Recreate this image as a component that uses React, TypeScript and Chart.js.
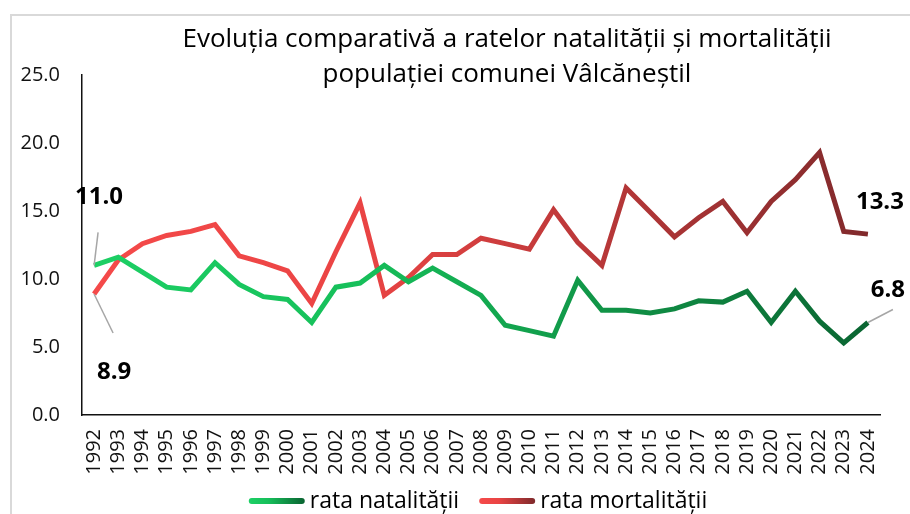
import { useEffect, useRef } from 'react';
import { Chart, registerables } from 'chart.js';

Chart.register(...registerables);

const years = [
  '1992', '1993', '1994', '1995', '1996', '1997', '1998', '1999', '2000', '2001', '2002',
  '2003', '2004', '2005', '2006', '2007', '2008', '2009', '2010', '2011', '2012', '2013',
  '2014', '2015', '2016', '2017', '2018', '2019', '2020', '2021', '2022', '2023', '2024',
];
const natalitate = [
  11.0, 11.6, 10.5, 9.4, 9.2, 11.2, 9.6, 8.7, 8.5, 6.8, 9.4,
  9.7, 11.0, 9.8, 10.8, 9.8, 8.8, 6.6, 6.2, 5.8, 9.9, 7.7,
  7.7, 7.5, 7.8, 8.4, 8.3, 9.1, 6.8, 9.1, 6.9, 5.3, 6.8,
];
const mortalitate = [
  8.9, 11.4, 12.6, 13.2, 13.5, 14.0, 11.7, 11.2, 10.6, 8.2, 12.0,
  15.6, 8.8, 10.1, 11.8, 11.8, 13.0, 12.6, 12.2, 15.1, 12.7, 11.0,
  16.7, 14.9, 13.1, 14.5, 15.7, 13.4, 15.7, 17.3, 19.3, 13.5, 13.3,
];
const seriesNames = ['rata natalității', 'rata mortalității'];
const titleLines = [
  'Evoluția comparativă a ratelor natalității și mortalității',
  'populației comunei Vâlcăneștil',
];
const yMin = 0;
const yMax = 25;
const yStep = 5;

const greenStops: [number, string][] = [
  [0, '#1dd065'],
  [0.35, '#16bf5a'],
  [1, '#0a6331'],
];
const redStops: [number, string][] = [
  [0, '#f54a4a'],
  [0.35, '#ea4444'],
  [1, '#7e292b'],
];

function makeGradient(ctx: CanvasRenderingContext2D, x0: number, x1: number, stops: [number, string][]) {
  const g = ctx.createLinearGradient(x0, 0, x1, 0);
  stops.forEach(([o, c]) => g.addColorStop(o, c));
  return g;
}

const FONT = '"Open Sans", "Noto Sans", sans-serif';

const overlayPlugin = {
  id: 'overlay',
  beforeDraw(chart: any) {
    const ctx = chart.ctx as CanvasRenderingContext2D;
    ctx.save();
    ctx.strokeStyle = '#d9d9d9';
    ctx.lineWidth = 2;
    ctx.strokeRect(11, 15, 1200, 1200);
    ctx.restore();
  },
  afterDraw(chart: any) {
    const ctx = chart.ctx as CanvasRenderingContext2D;
    const xs = chart.scales.x;
    const ys = chart.scales.y;
    const area = chart.chartArea;

    // title
    ctx.save();
    ctx.fillStyle = '#000';
    ctx.font = `26px ${FONT}`;
    ctx.textAlign = 'center';
    ctx.textBaseline = 'middle';
    const tcx = (area.left + area.right) / 2 + 26;
    ctx.fillText(titleLines[0], tcx, 40);
    ctx.fillText(titleLines[1], tcx, 75);
    ctx.restore();

    // data labels with leader lines
    const last = years.length - 1;
    const labels = [
      { v: natalitate[0], i: 0, dx: 5, dy: -68, lx: 4, ly: -33 },
      { v: mortalitate[0], i: 0, dx: 20, dy: 78, lx: 19, ly: 39 },
      { v: mortalitate[last], i: last, dx: 12, dy: -32, lx: null, ly: null },
      { v: natalitate[last], i: last, dx: 20, dy: -32, lx: 25, ly: -13 },
    ];
    ctx.save();
    labels.forEach((l) => {
      const px = xs.getPixelForValue(l.i);
      const py = ys.getPixelForValue(l.v);
      if (l.lx !== null) {
        ctx.strokeStyle = '#a6a6a6';
        ctx.lineWidth = 1.5;
        ctx.beginPath();
        ctx.moveTo(px, py);
        ctx.lineTo(px + (l.lx as number), py + (l.ly as number));
        ctx.stroke();
      }
      ctx.fillStyle = '#000';
      ctx.font = `bold 24px ${FONT}`;
      ctx.textAlign = 'center';
      ctx.textBaseline = 'middle';
      ctx.fillText(l.v.toFixed(1), px + l.dx, py + l.dy);
    });
    ctx.restore();

    // legend
    ctx.save();
    ctx.font = `23px ${FONT}`;
    ctx.textBaseline = 'middle';
    const lineW = 56;
    const gapText = 5;
    const gapItem = 20;
    const widths = seriesNames.map((n) => ctx.measureText(n).width);
    const total = widths.reduce((a, w) => a + lineW + gapText + w, 0) + gapItem * (seriesNames.length - 1);
    let lx = 478 - total / 2;
    const ly = 501;
    seriesNames.forEach((n, k) => {
      const stops = k === 0 ? greenStops : redStops;
      ctx.strokeStyle = makeGradient(ctx, lx, lx + lineW, stops);
      ctx.lineWidth = 6;
      ctx.lineCap = 'round';
      ctx.beginPath();
      ctx.moveTo(lx + 3, ly);
      ctx.lineTo(lx + lineW - 3, ly);
      ctx.stroke();
      ctx.fillStyle = '#000';
      ctx.textAlign = 'left';
      ctx.fillText(n, lx + lineW + gapText, ly);
      lx += lineW + gapText + widths[k] + gapItem;
    });
    ctx.restore();
  },
};

export default function App() {
  const ref = useRef<HTMLCanvasElement | null>(null);

  useEffect(() => {
    if (!ref.current) return;
    const gradFor = (stops: [number, string][], fallback: string) => (c: any) => {
      const chart = c.chart;
      const area = chart.chartArea;
      if (!area) return fallback;
      return makeGradient(chart.ctx, area.left, area.right, stops);
    };
    const chart = new Chart(ref.current, {
      type: 'line',
      data: {
        labels: years,
        datasets: [
          {
            label: seriesNames[0],
            data: natalitate,
            borderColor: gradFor(greenStops, '#16bf5a'),
            backgroundColor: '#16bf5a',
            borderWidth: 5,
            pointRadius: 0,
            tension: 0,
          },
          {
            label: seriesNames[1],
            data: mortalitate,
            borderColor: gradFor(redStops, '#ea4444'),
            backgroundColor: '#ea4444',
            borderWidth: 5,
            pointRadius: 0,
            tension: 0,
          },
        ],
      },
      options: {
        animation: false,
        responsive: true,
        maintainAspectRatio: false,
        layout: { padding: { left: 0, right: 30, top: 75, bottom: 0 } },
        plugins: {
          legend: { display: false },
          title: { display: false },
          tooltip: { enabled: false },
        },
        scales: {
          x: {
            type: 'category',
            offset: true,
            grid: { display: false, drawTicks: false },
            border: { display: true, color: '#111', width: 1.5 },
            ticks: {
              autoSkip: false,
              maxRotation: 90,
              minRotation: 90,
              padding: 14,
              color: '#111',
              font: { family: FONT, size: 20 },
            },
            afterFit: (s: any) => {
              s.height = 99;
            },
          },
          y: {
            min: yMin,
            max: yMax,
            grid: { display: false, drawTicks: false },
            border: { display: true, color: '#111', width: 1.5 },
            ticks: {
              stepSize: yStep,
              padding: 22,
              color: '#111',
              font: { family: FONT, size: 20 },
              callback: (v: any) => Number(v).toFixed(1),
            },
            afterFit: (s: any) => {
              s.width = 82;
            },
          },
        },
      },
      plugins: [overlayPlugin],
    });
    return () => chart.destroy();
  }, []);

  return (
    <div style={{ position: 'fixed', left: 0, top: 0, width: 910, height: 514, background: '#fff' }}>
      <canvas ref={ref} />
    </div>
  );
}
